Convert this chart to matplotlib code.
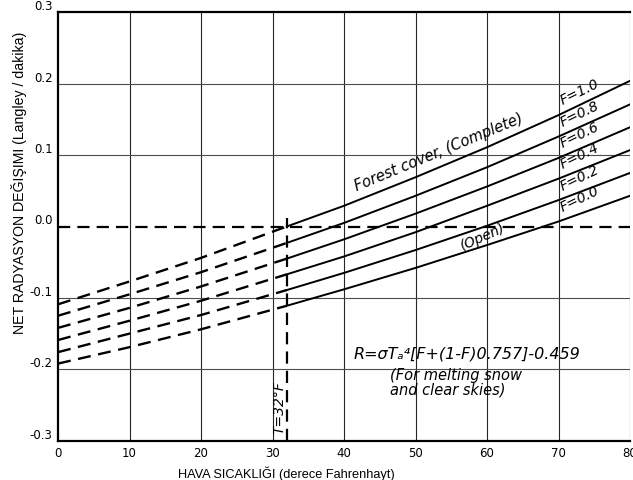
import numpy as np
import matplotlib
matplotlib.use('Agg')
import matplotlib.pyplot as plt

# air temperature (F) where the curves were read
TEMPS = [0, 10, 20, 32, 40, 50, 60, 70, 80]

# net radiation change (ly/min) for each forest cover fraction F
F_LABELS = ['F=1.0', 'F=0.8', 'F=0.6', 'F=0.4', 'F=0.2', 'F=0.0']
NET_RAD = [
    [-0.109, -0.077, -0.044, 0.000, 0.029, 0.069, 0.111, 0.156, 0.204],
    [-0.125, -0.095, -0.064, -0.023, 0.005, 0.043, 0.083, 0.126, 0.171],
    [-0.142, -0.114, -0.084, -0.045, -0.018, 0.018, 0.056, 0.096, 0.139],
    [-0.159, -0.132, -0.104, -0.067, -0.042, -0.008, 0.029, 0.067, 0.107],
    [-0.176, -0.150, -0.124, -0.089, -0.065, -0.033, 0.001, 0.037, 0.075],
    [-0.192, -0.169, -0.144, -0.111, -0.088, -0.058, -0.026, 0.007, 0.043],
]

FREEZING = 32
X_TICKS = [0, 10, 20, 30, 40, 50, 60, 70, 80]
Y_TICKS = [-0.3, -0.2, -0.1, 0.0, 0.1, 0.2, 0.3]

DASH = (0, (5.5, 3.2))

fig = plt.figure(figsize=(6.33, 4.81), dpi=100)
ax = fig.add_axes([58 / 633, 1 - 441.7 / 481, 572 / 633, 428.4 / 481])

ax.set_xlim(0, 80)
ax.set_ylim(-0.3, 0.3)

# grid
for x in X_TICKS[1:]:
    ax.axvline(x, color='0.15', lw=0.8, zorder=1)
for y in Y_TICKS[1:-1]:
    if y != 0:
        ax.axhline(y, color='0.3', lw=0.8, zorder=1)

ax.axhline(0, color='black', lw=1.6, linestyle=DASH, zorder=2)
ax.plot([FREEZING, FREEZING], [-0.3, 0.012], color='black', lw=1.6, linestyle=DASH, zorder=2)

temps = np.array(TEMPS)
cold = temps <= FREEZING
warm = temps >= FREEZING
for vals in NET_RAD:
    vals = np.array(vals)
    ax.plot(temps[cold], vals[cold], color='black', lw=1.7, linestyle=DASH, zorder=3)
    ax.plot(temps[warm], vals[warm], color='black', lw=1.4, zorder=3)

# curve labels near right edge
for lab, vals in zip(F_LABELS, NET_RAD):
    y71 = np.interp(71, TEMPS, vals)
    ax.text(70.8, y71 + 0.007, lab, rotation=26, rotation_mode='anchor',
            fontsize=10, style='italic', ha='left', va='bottom')

ax.text(42, 0.047, 'Forest cover, (Complete)', rotation=22.5, rotation_mode='anchor',
        fontsize=10.5, style='italic', ha='left', va='bottom')
ax.text(56.8, -0.036, '(Open)', rotation=24, rotation_mode='anchor',
        fontsize=10, style='italic', ha='left', va='bottom')
ax.text(41.3, -0.177, 'R=σTₐ⁴[F+(1-F)0.757]-0.459', fontsize=11.5,
        style='italic', ha='left', va='center')
ax.text(46.4, -0.197, '(For melting snow\nand clear skies)', fontsize=10.5,
        style='italic', ha='left', va='top', linespacing=0.95)
ax.text(31.0, -0.252, 'T=32°F', rotation=90, fontsize=10, style='italic',
        ha='center', va='center')

ax.set_xticks(X_TICKS)
ax.set_xticklabels([str(v) for v in X_TICKS], fontsize=8.5)
ax.set_yticks(Y_TICKS)
ax.set_yticklabels(['%.1f' % v for v in Y_TICKS], fontsize=8.5)
ax.tick_params(length=0, pad=4)
for lab in ax.get_yticklabels():
    lab.set_verticalalignment('bottom')

for side in ['left', 'bottom', 'top']:
    ax.spines[side].set_linewidth(1.6)
ax.spines['right'].set_visible(False)

ax.set_xlabel('HAVA SICAKLIĞI (derece Fahrenhayt)', family='Liberation Sans',
              fontsize=9.2, labelpad=5)
ax.xaxis.set_label_coords(0.40, -0.057)
ax.set_ylabel('NET RADYASYON DEĞIŞIMI (Langley / dakika)', family='Liberation Sans',
              fontsize=10.2, labelpad=6)
ax.yaxis.set_label_coords(-0.054, 0.604)

fig.savefig('out.png', dpi=100)
